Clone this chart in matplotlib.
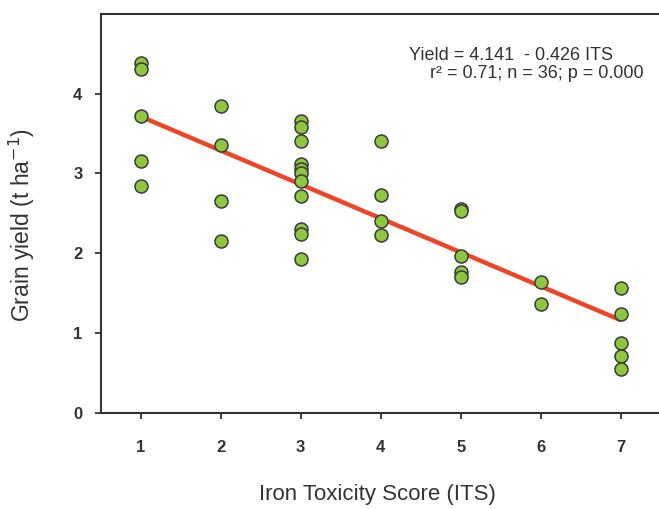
import matplotlib
matplotlib.use("Agg")
import matplotlib.pyplot as plt
import numpy as np

plt.rcParams['font.family'] = ['Liberation Sans', 'DejaVu Sans']

its_values = [1, 1, 1, 1, 1,
              2, 2, 2, 2,
              3, 3, 3, 3, 3, 3, 3, 3, 3, 3, 3,
              4, 4, 4, 4,
              5, 5, 5, 5, 5,
              6, 6,
              7, 7, 7, 7, 7]
yield_values = [4.39, 4.31, 3.72, 3.16, 2.84,
                3.84, 3.36, 2.65, 2.15,
                3.66, 3.58, 3.41, 3.12, 3.06, 3.00, 2.91, 2.72, 2.30, 2.24, 1.93,
                3.41, 2.73, 2.41, 2.23,
                2.56, 2.53, 1.97, 1.77, 1.70,
                1.64, 1.36,
                1.57, 1.24, 0.87, 0.71, 0.55]
intercept = 4.141
slope = -0.426
x_ticks = [1, 2, 3, 4, 5, 6, 7]
y_ticks = [0, 1, 2, 3, 4]

W, H = 659, 509
fig = plt.figure(figsize=(W / 100, H / 100), dpi=100)
ax = fig.add_axes([100.5 / W, 1 - 412.7 / H, 560.5 / W, 398.7 / H])

txt = '#333333'
ax.scatter(its_values, yield_values, s=88, facecolor='#8dc63f', edgecolor='#3a3a3a',
           linewidth=1.1, zorder=3)
xl = np.array([min(its_values), max(its_values)])
ax.plot(xl, intercept + slope * xl, color='#ee4526', linewidth=3.2, zorder=2,
        solid_capstyle='butt')

ax.set_xlim(0.5, 7.5)
ax.set_ylim(0, 5)
ax.set_xticks(x_ticks)
ax.set_yticks(y_ticks)
ax.spines['right'].set_visible(False)
for s in ['left', 'bottom', 'top']:
    ax.spines[s].set_linewidth(1.5)
    ax.spines[s].set_color('#333333')
ax.tick_params(axis='x', direction='out', length=4, width=1.3, color='#333333',
               pad=16, labelsize=12, labelcolor=txt)
ax.tick_params(axis='y', direction='out', length=4, width=1.3, color='#333333',
               pad=9, labelsize=12, labelcolor=txt)
for lab in ax.get_xticklabels() + ax.get_yticklabels():
    lab.set_fontweight('bold')

ax.set_xlabel('Iron Toxicity Score (ITS)', fontsize=16, color=txt)
ax.xaxis.set_label_coords(0.494, -0.206)
ax.xaxis.label.set_va('center')
ax.set_ylabel('Grain yield (t ha$^{-1}$)', fontsize=16.5, color=txt)
ax.yaxis.set_label_coords(-0.141, 0.47)
ax.yaxis.label.set_va('center')

fig.text(409 / W, 1 - 56 / H, 'Yield = 4.141  - 0.426 ITS', fontsize=13, color=txt,
         ha='left', va='center')
fig.text(430 / W, 1 - 74 / H, 'r² = 0.71; n = 36; p = 0.000', fontsize=13, color=txt,
         ha='left', va='center')

fig.savefig('out.png', dpi=100)
